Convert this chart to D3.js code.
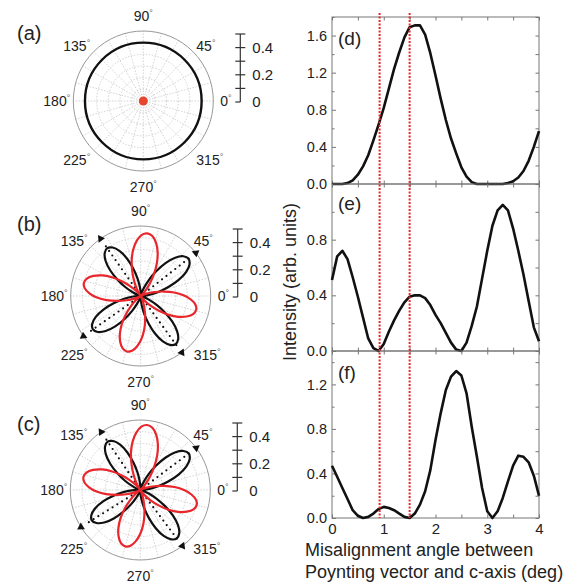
<!DOCTYPE html>
<html>
<head>
<meta charset="utf-8">
<script src="https://cdn.jsdelivr.net/npm/d3@7"></script>
<style>
  body { margin: 0; background: #fff; }
  text { font-family: Arial, "Liberation Sans", sans-serif; fill: #222; }
</style>
</head>
<body>
<svg id="chart" width="579" height="584"></svg>
<script>
// ---- right hand panels: intensity vs misalignment angle ----
var misalign = [0, 0.1, 0.2, 0.3, 0.4, 0.5, 0.6, 0.7, 0.8, 0.9,
                1.0, 1.1, 1.2, 1.3, 1.4, 1.5, 1.6, 1.7, 1.8, 1.9,
                2.0, 2.1, 2.2, 2.3, 2.4, 2.5, 2.6, 2.7, 2.8, 2.9,
                3.0, 3.1, 3.2, 3.3, 3.4, 3.5, 3.6, 3.7, 3.8, 3.9, 4.0];

var intensityD = [0, 0, 0, 0.01, 0.04, 0.10, 0.19, 0.31, 0.47, 0.64,
                  0.82, 1.03, 1.24, 1.42, 1.58, 1.69, 1.71, 1.71, 1.61, 1.41,
                  1.17, 0.92, 0.69, 0.49, 0.33, 0.18, 0.08, 0.02, 0, 0,
                  0, 0, 0, 0, 0.01, 0.03, 0.07, 0.14, 0.25, 0.40, 0.57];

var intensityE = [0.51, 0.68, 0.72, 0.66, 0.53, 0.39, 0.24, 0.09, 0.02, 0.00,
                  0.05, 0.14, 0.22, 0.29, 0.35, 0.39, 0.40, 0.40, 0.38, 0.33,
                  0.26, 0.20, 0.13, 0.06, 0.01, 0.00, 0.06, 0.18, 0.32, 0.52,
                  0.72, 0.90, 1.01, 1.05, 1.01, 0.88, 0.72, 0.55, 0.36, 0.17, 0.07];

var intensityF = [0.47, 0.37, 0.27, 0.17, 0.07, 0.02, 0.00, 0.01, 0.04, 0.08,
                  0.10, 0.09, 0.07, 0.04, 0.01, 0.00, 0.04, 0.12, 0.24, 0.43,
                  0.70, 0.94, 1.15, 1.27, 1.32, 1.28, 1.12, 0.82, 0.55, 0.27,
                  0.06, 0.00, 0.06, 0.18, 0.33, 0.47, 0.56, 0.55, 0.50, 0.38, 0.20];

var markerLines = [0.92, 1.5];          // red dotted verticals
var xMajor = [0, 1, 2, 3, 4];
var xMinor = [0.5, 1.5, 2.5, 3.5];
var yTicksD = [0, 0.4, 0.8, 1.2, 1.6];
var yTicksE = [0, 0.4, 0.8];
var yTicksF = [0, 0.4, 0.8, 1.2];

// ---- left hand polar panels ----
var angleLabels = [0, 45, 90, 135, 180, 225, 270, 315];
var scaleTicks = [0, 0.1, 0.2, 0.3, 0.4, 0.5];
var scaleLabels = [0, 0.2, 0.4];
var ringValues = [0.1, 0.2, 0.3, 0.4, 0.5];
var circleA = 0.5;                      // (a) isotropic response

// petal shape: relative radius vs offset from petal axis (deg)
var petalOffsets = [0, 5, 10, 15, 20, 25, 30, 35, 40, 45];
var blackPetal = [1, 0.96, 0.85, 0.68, 0.48, 0.30, 0.15, 0.05, 0.01, 0];
var redPetal   = [1, 0.97, 0.88, 0.75, 0.59, 0.41, 0.25, 0.12, 0.03, 0];

var bBlackAngles = [38, 125, 215, 306];
var bBlackAmps   = [0.52, 0.50, 0.50, 0.51];
var bRedAngles   = [84, 167, 256, 346];
var bRedAmps     = [0.54, 0.50, 0.49, 0.49];

var cBlackAngles = [37, 124, 212, 307];
var cBlackAmps   = [0.52, 0.50, 0.49, 0.52];
var cRedAngles   = [84, 167, 255, 345];
var cRedAmps     = [0.56, 0.50, 0.50, 0.50];

var svg = d3.select("#chart");
var RED = "#e8262b";
var FRAME = "#777";

// ================= right panels =================
var x = d3.scaleLinear().domain([0, 4]).range([332, 539]);

var panels = [
    {label: "(d)", values: intensityD, max: 1.8, top: 17,  bottom: 184, ticks: yTicksD, labelY: 45},
    {label: "(e)", values: intensityE, max: 1.2, top: 184, bottom: 351, ticks: yTicksE, labelY: 210},
    {label: "(f)", values: intensityF, max: 1.5, top: 351, bottom: 518, ticks: yTicksF, labelY: 379}
];

function minorY(max) {
    var out = [];
    for (var v = 0.2; v < max + 1e-6; v += 0.4) out.push(+v.toFixed(1));
    return out;
}

panels.forEach(function(p, idx) {
    var y = d3.scaleLinear().domain([0, p.max]).range([p.bottom, p.top]);
    var g = svg.append("g");
    var fmt = d3.format(".1f");

    g.append("g")
        .attr("transform", "translate(" + x(0) + ",0)")
        .call(d3.axisLeft(y).tickValues(p.ticks).tickSize(-4).tickPadding(5).tickFormat(fmt))
        .call(s => s.select(".domain").remove())
        .call(s => s.selectAll("text").style("font-size", "14.5px").attr("fill", "#222"))
        .call(s => s.selectAll("line").attr("stroke", FRAME));
    g.append("g")
        .attr("transform", "translate(" + x(0) + ",0)")
        .call(d3.axisLeft(y).tickValues(minorY(p.max)).tickSize(-2.5).tickFormat(""))
        .call(s => s.select(".domain").remove())
        .call(s => s.selectAll("line").attr("stroke", FRAME));
    g.append("g")
        .attr("transform", "translate(" + x(4) + ",0)")
        .call(d3.axisRight(y).tickValues(p.ticks.concat(minorY(p.max))).tickSize(-3.5).tickFormat(""))
        .call(s => s.select(".domain").remove())
        .call(s => s.selectAll("line").attr("stroke", FRAME));

    [[p.top, d3.axisTop], [p.bottom, d3.axisBottom]].forEach(function(e) {
        var ax = e[1](x).tickValues(xMajor.concat(xMinor)).tickSize(-3.5);
        var isBottomLabels = (idx === 2 && e[1] === d3.axisBottom);
        if (isBottomLabels) {
            ax = e[1](x).tickValues(xMajor).tickSize(-3.5).tickPadding(5).tickFormat(d3.format("d"));
        } else {
            ax.tickFormat("");
        }
        g.append("g")
            .attr("transform", "translate(0," + e[0] + ")")
            .call(ax)
            .call(s => s.select(".domain").remove())
            .call(s => s.selectAll("line").attr("stroke", FRAME))
            .call(s => s.selectAll("text").style("font-size", "15px").attr("fill", "#222"));
        if (isBottomLabels) {
            g.append("g")
                .attr("transform", "translate(0," + e[0] + ")")
                .call(e[1](x).tickValues(xMinor).tickSize(-3.5).tickFormat(""))
                .call(s => s.select(".domain").remove())
                .call(s => s.selectAll("line").attr("stroke", FRAME));
        }
    });

    g.append("rect")
        .attr("x", x(0)).attr("y", p.top)
        .attr("width", x(4) - x(0)).attr("height", p.bottom - p.top)
        .attr("fill", "none").attr("stroke", FRAME).attr("stroke-width", 1);

    g.append("path")
        .datum(p.values)
        .attr("fill", "none")
        .attr("stroke", "#111")
        .attr("stroke-width", 2.6)
        .attr("stroke-linejoin", "round")
        .attr("d", d3.line().x((d, i) => x(misalign[i])).y(d => y(d)));

    g.append("text")
        .attr("x", 338).attr("y", p.labelY)
        .style("font-size", "19px")
        .text(p.label);
});

svg.selectAll(".marker")
    .data(markerLines)
    .enter().append("line")
    .attr("class", "marker")
    .attr("x1", d => x(d)).attr("x2", d => x(d))
    .attr("y1", 13).attr("y2", 518)
    .attr("stroke", RED)
    .attr("stroke-width", 2)
    .attr("stroke-dasharray", "2,1.5");

svg.append("text")
    .attr("transform", "translate(296,282) rotate(-90)")
    .attr("text-anchor", "middle")
    .style("font-size", "18px")
    .text("Intensity (arb. units)");

svg.append("text").attr("x", 305).attr("y", 556).style("font-size", "18px")
    .text("Misalignment angle between");
svg.append("text").attr("x", 305).attr("y", 578).style("font-size", "18px")
    .text("Poynting vector and c-axis (deg)");

// ================= polar panels =================
var rScale = d3.scaleLinear().domain([0, 0.6]).range([0, 70]);
var barScale = d3.scaleLinear().domain([0, 0.5]).range([0, -68]);
var labelDy = {0: 5, 45: 3, 90: -5, 135: 3, 180: 5, 225: 11, 270: 16, 315: 11};
var labelAnchor = {0: "start", 45: "start", 90: "middle", 135: "end",
                   180: "end", 225: "end", 270: "middle", 315: "start"};

function pt(deg, rad) {
    var a = deg * Math.PI / 180;
    return [rad * Math.cos(a), -rad * Math.sin(a)];
}

function petals(angles, amps, profile) {
    var pts = [];
    angles.forEach(function(a, k) {
        for (var j = petalOffsets.length - 1; j > 0; j--) pts.push([a - petalOffsets[j], amps[k] * profile[j]]);
        for (var j2 = 0; j2 < petalOffsets.length - 1; j2++) pts.push([a + petalOffsets[j2], amps[k] * profile[j2]]);
    });
    return pts;
}

var radialLine = d3.lineRadial()
    .angle(d => (90 - d[0]) * Math.PI / 180)
    .radius(d => rScale(d[1]))
    .curve(d3.curveCatmullRomClosed.alpha(0.5));

function drawPolar(cx, cy, label, labelY, opts) {
    var g = svg.append("g").attr("transform", "translate(" + cx + "," + cy + ")");

    g.selectAll(".ring").data(ringValues).enter().append("circle")
        .attr("r", d => rScale(d))
        .attr("fill", "none").attr("stroke", "#c8c8c8")
        .attr("stroke-width", 0.8).attr("stroke-dasharray", "1.5,1.5");

    g.selectAll(".spoke").data(d3.range(0, 360, 15)).enter().append("line")
        .attr("x1", 0).attr("y1", 0)
        .attr("x2", d => pt(d, rScale(0.6))[0])
        .attr("y2", d => pt(d, rScale(0.6))[1])
        .attr("stroke", "#c8c8c8").attr("stroke-width", 0.8).attr("stroke-dasharray", "1.5,1.5");

    g.append("circle").attr("r", rScale(0.6))
        .attr("fill", "none").attr("stroke", "#999").attr("stroke-width", 1);

    // angle labels
    var lab = g.selectAll(".alab").data(angleLabels).enter().append("text")
        .attr("x", d => d === 0 ? 77 : d === 180 ? -73 : pt(d, 75)[0])
        .attr("y", d => pt(d, 75)[1] + labelDy[d])
        .attr("text-anchor", d => labelAnchor[d])
        .style("font-size", "14px");
    lab.append("tspan").text(d => d);
    lab.append("tspan").text("°").style("font-size", "9px").attr("dy", -5).attr("fill", "#666");

    // scale bar
    var bar = g.append("g").attr("transform", "translate(97,1)");
    bar.append("line").attr("y1", barScale(0)).attr("y2", barScale(0.5))
        .attr("stroke", "#333").attr("stroke-width", 1.2);
    bar.selectAll(".bt").data(scaleTicks).enter().append("line")
        .attr("x1", -5).attr("x2", d => d === 0 ? 0 : 5)
        .attr("y1", d => barScale(d)).attr("y2", d => barScale(d))
        .attr("stroke", "#333").attr("stroke-width", 1.2);
    bar.selectAll(".bl").data(scaleLabels).enter().append("text")
        .attr("x", 12).attr("y", d => barScale(d) + 5)
        .style("font-size", "15px")
        .text(d => d);

    if (opts.circle !== undefined) {
        g.append("circle").attr("r", rScale(opts.circle))
            .attr("fill", "none").attr("stroke", "#111").attr("stroke-width", 2.4);
        g.append("circle").attr("r", 4.5).attr("fill", "#e8452f");
    }
    if (opts.black) {
        g.append("path").datum(petals(opts.black[0], opts.black[1], blackPetal))
            .attr("fill", "none").attr("stroke", "#111").attr("stroke-width", 2.2)
            .attr("d", radialLine);
        g.selectAll(".axisdot").data(opts.black[0]).enter().append("line")
            .attr("x1", d => pt(d, rScale(0.04))[0]).attr("y1", d => pt(d, rScale(0.04))[1])
            .attr("x2", d => pt(d, rScale(0.55))[0]).attr("y2", d => pt(d, rScale(0.55))[1])
            .attr("stroke", "#111").attr("stroke-width", 2.2)
            .attr("stroke-linecap", "round").attr("stroke-dasharray", "0,5.6");
        g.selectAll(".tri").data(opts.black[0]).enter().append("path")
            .attr("d", d3.symbol().type(d3.symbolTriangle).size(26))
            .attr("transform", d => "translate(" + pt(d, rScale(0.6)) + ") rotate(" + (90 - d) + ")")
            .attr("fill", "#111");
    }
    if (opts.red) {
        g.append("path").datum(petals(opts.red[0], opts.red[1], redPetal))
            .attr("fill", "none").attr("stroke", RED).attr("stroke-width", 2.2)
            .attr("d", radialLine);
    }

    svg.append("text").attr("x", 17).attr("y", labelY)
        .style("font-size", "20px").text(label);
}

drawPolar(143.3, 101, "(a)", 40, {circle: circleA});
drawPolar(140.7, 296, "(b)", 231, {black: [bBlackAngles, bBlackAmps], red: [bRedAngles, bRedAmps]});
drawPolar(140.3, 490, "(c)", 431, {black: [cBlackAngles, cBlackAmps], red: [cRedAngles, cRedAmps]});
</script>
</body>
</html>
